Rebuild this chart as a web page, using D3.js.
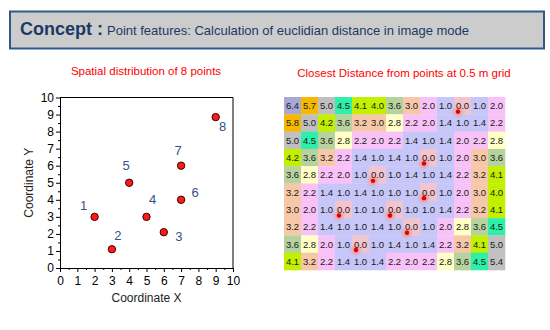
<!DOCTYPE html>
<html>
<head>
<meta charset="utf-8">
<script src="https://cdn.jsdelivr.net/npm/d3@7"></script>
<style>
  html, body { margin: 0; padding: 0; background: #ffffff; }
  svg { display: block; font-family: "Liberation Sans", Arial, sans-serif; }
</style>
</head>
<body>
<svg id="chart" width="550" height="330"></svg>
<script>
// ---- data ----
const pointIds = [1, 2, 3, 4, 5, 6, 7, 8];
const pointX = [2, 3, 6, 5, 4, 7, 7, 9];
const pointY = [3, 1.1, 2.1, 3, 5, 4, 6, 8.85];
const axisTicks = [0, 1, 2, 3, 4, 5, 6, 7, 8, 9, 10];

// closest-distance raster (rows top to bottom, 13 columns each)
const distanceGrid = [
  [6.4, 5.7, 5.0, 4.5, 4.1, 4.0, 3.6, 3.0, 2.0, 1.0, 0.0, 1.0, 2.0],
  [5.8, 5.0, 4.2, 3.6, 3.2, 3.0, 2.8, 2.2, 2.0, 1.4, 1.0, 1.4, 2.2],
  [5.0, 4.5, 3.6, 2.8, 2.2, 2.0, 2.2, 1.4, 1.0, 1.4, 2.0, 2.2, 2.8],
  [4.2, 3.6, 3.2, 2.2, 1.4, 1.0, 1.4, 1.0, 0.0, 1.0, 2.0, 3.0, 3.6],
  [3.6, 2.8, 2.2, 2.0, 1.0, 0.0, 1.0, 1.4, 1.0, 1.4, 2.2, 3.2, 4.1],
  [3.2, 2.2, 1.4, 1.0, 1.4, 1.0, 1.0, 1.0, 0.0, 1.0, 2.0, 3.0, 4.0],
  [3.0, 2.0, 1.0, 0.0, 1.0, 1.0, 0.0, 1.0, 1.0, 1.4, 2.2, 3.2, 4.1],
  [3.2, 2.2, 1.4, 1.0, 1.0, 1.4, 1.0, 0.0, 1.0, 2.0, 2.8, 3.6, 4.5],
  [3.6, 2.8, 2.0, 1.0, 0.0, 1.0, 1.4, 1.0, 1.4, 2.2, 3.2, 4.1, 5.0],
  [4.1, 3.2, 2.2, 1.4, 1.0, 1.4, 2.2, 2.0, 2.2, 2.8, 3.6, 4.5, 5.4]
];

const headerBold = "Concept :";
const headerText = "Point features: Calculation of euclidian distance in image mode";
const leftTitle = "Spatial distribution of 8 points";
const rightTitle = "Closest Distance from points at 0.5 m grid";
const xTitle = "Coordinate X";
const yTitle = "Coordinate Y";

// ---- drawing ----
const svg = d3.select("#chart");
const defs = svg.append("defs");
const glow = defs.append("radialGradient").attr("id", "glow");
glow.append("stop").attr("offset", "0%").attr("stop-color", "#e83c3c").attr("stop-opacity", 0.55);
glow.append("stop").attr("offset", "55%").attr("stop-color", "#f09090").attr("stop-opacity", 0.35);
glow.append("stop").attr("offset", "100%").attr("stop-color", "#f4b8c0").attr("stop-opacity", 0);

// header banner
svg.append("rect")
  .attr("x", 10).attr("y", 11.5).attr("width", 534).attr("height", 37)
  .attr("fill", "#cccccc").attr("stroke", "#2e5a8a").attr("stroke-width", 2);
const head = svg.append("text").attr("x", 20).attr("y", 35).attr("fill", "#1b3966");
head.append("tspan").attr("font-weight", "bold").attr("font-size", 18).text(headerBold);
head.append("tspan").attr("font-size", 13).attr("dx", 4).text(headerText);

// ---- scatter plot ----
const x = d3.scaleLinear().domain([0, 10]).range([60, 233]);
const y = d3.scaleLinear().domain([0, 10]).range([268, 97.5]);

svg.append("text").attr("x", 146).attr("y", 75).attr("text-anchor", "middle")
  .attr("fill", "#ff0000").attr("font-size", 11.5).text(leftTitle);

const halfTicks = d3.range(0.5, 10, 1);

svg.append("g").attr("transform", `translate(0,${y(0)})`)
  .call(d3.axisBottom(x).tickValues(axisTicks).tickSize(4).tickSizeOuter(0).tickPadding(4));
svg.append("g").attr("transform", `translate(0,${y(0)})`)
  .call(d3.axisBottom(x).tickValues(halfTicks).tickSize(2).tickFormat("").tickSizeOuter(0));
svg.append("g").attr("transform", `translate(${x(0)},0)`)
  .call(d3.axisLeft(y).tickValues(axisTicks).tickSize(4).tickSizeOuter(0).tickPadding(2));
svg.append("g").attr("transform", `translate(${x(0)},0)`)
  .call(d3.axisLeft(y).tickValues(halfTicks).tickSize(2).tickFormat("").tickSizeOuter(0));

svg.selectAll(".domain").attr("stroke", "#000");
svg.selectAll(".tick line").attr("stroke", "#000");
svg.selectAll(".tick text").attr("font-size", 12).attr("fill", "#000")
  .attr("font-family", "'Liberation Sans', Arial, sans-serif");

// plot frame (top and right edges)
svg.append("path")
  .attr("d", `M${x(0)},${y(10)}H${x(10)}V${y(0)}`)
  .attr("fill", "none").attr("stroke", "#000").attr("stroke-width", 1);

svg.append("text").attr("x", (x(0) + x(10)) / 2).attr("y", 302).attr("text-anchor", "middle")
  .attr("font-size", 12).attr("fill", "#222").text(xTitle);
svg.append("text").attr("transform", `translate(33,${(y(0) + y(10)) / 2}) rotate(-90)`)
  .attr("text-anchor", "middle").attr("font-size", 12).attr("fill", "#222").text(yTitle);

const pts = pointIds.map((id, i) => ({ id, x: pointX[i], y: pointY[i] }));
// label placement around each point (pixels)
const labelOffsets = [[-11, -11], [6, -14], [15, 4], [6, -17], [-3, -17], [14, -7], [-3, -15], [7, 9]];

svg.append("g").selectAll("circle").data(pts).join("circle")
  .attr("cx", d => x(d.x)).attr("cy", d => y(d.y)).attr("r", 3.7)
  .attr("fill", "#ff1a1a").attr("stroke", "#3a0000").attr("stroke-width", 1);

svg.append("g").selectAll("text").data(pts).join("text")
  .attr("x", (d, i) => x(d.x) + labelOffsets[i][0])
  .attr("y", (d, i) => y(d.y) + labelOffsets[i][1])
  .attr("text-anchor", "middle").attr("dominant-baseline", "central")
  .attr("font-size", 13).attr("fill", "#34508a").text(d => d.id);

// ---- distance raster ----
svg.append("text").attr("x", 404).attr("y", 77).attr("text-anchor", "middle")
  .attr("fill", "#ff0000").attr("font-size", 11.5).text(rightTitle);

const nCols = distanceGrid[0].length, nRows = distanceGrid.length;
const cx = d3.scaleBand().domain(d3.range(nCols)).range([284, 505]);
const cy = d3.scaleBand().domain(d3.range(nRows)).range([97, 270]);

function cellColor(v) {
  if (v === 0) return "#f2c4cc";
  if (v < 2) return "#c6c6f8";
  if (v < 2.5) return "#f8c2f8";
  if (v < 2.9) return "#ffffc6";
  if (v < 3.5) return "#f6c8a8";
  if (v < 3.9) return "#b6d29e";
  if (v < 4.4) return "#c2f000";
  if (v < 4.9) return "#2ef0aa";
  if (v < 5.5) return "#c0c0c0";
  if (v < 6) return "#f8b800";
  return "#a8a8d6";
}

const cells = distanceGrid.flatMap((row, r) => row.map((v, c) => ({ r, c, v })));
const gGrid = svg.append("g");
gGrid.selectAll("rect").data(cells).join("rect")
  .attr("x", d => cx(d.c)).attr("y", d => cy(d.r))
  .attr("width", cx.bandwidth() + 0.3).attr("height", cy.bandwidth() + 0.3)
  .attr("fill", d => cellColor(d.v));

const zeros = cells.filter(d => d.v === 0);
gGrid.selectAll("circle.glow").data(zeros).join("circle").attr("class", "glow")
  .attr("cx", d => cx(d.c) + cx.bandwidth() / 2 - 4.5)
  .attr("cy", d => cy(d.r) + cy.bandwidth() / 2 + 6)
  .attr("r", 8).attr("fill", "url(#glow)");

gGrid.selectAll("text").data(cells).join("text")
  .attr("x", d => cx(d.c) + cx.bandwidth() / 2)
  .attr("y", d => cy(d.r) + cy.bandwidth() / 2)
  .attr("text-anchor", "middle").attr("dominant-baseline", "central")
  .attr("font-size", 9.5).attr("fill", "#1a1a1a")
  .text(d => d.v.toFixed(1));

gGrid.selectAll("circle.dot").data(zeros).join("circle").attr("class", "dot")
  .attr("cx", d => cx(d.c) + cx.bandwidth() / 2 - 4.5)
  .attr("cy", d => cy(d.r) + cy.bandwidth() / 2 + 6)
  .attr("r", 2.2).attr("fill", "#e00000");
</script>
</body>
</html>
